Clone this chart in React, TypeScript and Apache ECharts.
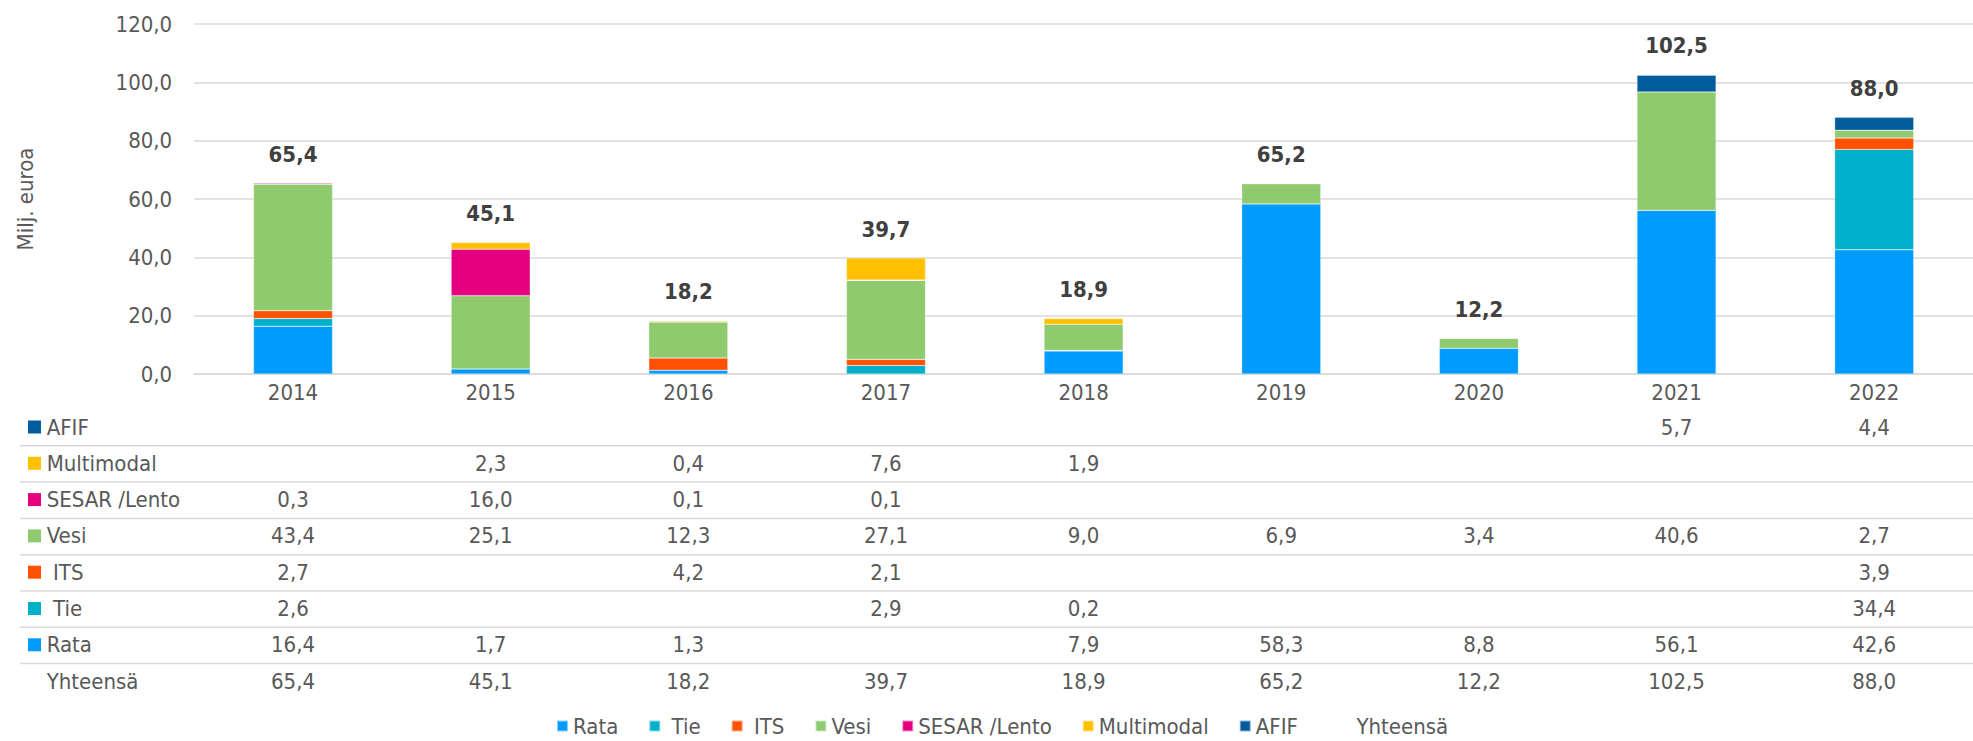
import React, { useEffect, useRef } from "react";
import * as echarts from "echarts";

const categories = ["2014", "2015", "2016", "2017", "2018", "2019", "2020", "2021", "2022"];
const rata = [16.4, 1.7, 1.3, null, 7.9, 58.3, 8.8, 56.1, 42.6];
const tie = [2.6, null, null, 2.9, 0.2, null, null, null, 34.4];
const its = [2.7, null, 4.2, 2.1, null, null, null, null, 3.9];
const vesi = [43.4, 25.1, 12.3, 27.1, 9.0, 6.9, 3.4, 40.6, 2.7];
const sesar = [0.3, 16.0, 0.1, 0.1, null, null, null, null, null];
const multimodal = [null, 2.3, 0.4, 7.6, 1.9, null, null, null, null];
const afif = [null, null, null, null, null, null, null, 5.7, 4.4];
const totals = [65.4, 45.1, 18.2, 39.7, 18.9, 65.2, 12.2, 102.5, 88.0];

const yMin = 0;
const yMax = 120;
const yInterval = 20;

const seriesDefs = [
  { name: "Rata", data: rata, color: "#009BFF" },
  { name: " Tie", data: tie, color: "#00AFC9" },
  { name: " ITS", data: its, color: "#FF5100" },
  { name: "Vesi", data: vesi, color: "#90CA6E" },
  { name: "SESAR /Lento", data: sesar, color: "#E5007E" },
  { name: "Multimodal", data: multimodal, color: "#FFC000" },
  { name: "AFIF", data: afif, color: "#005C9D" },
];
const totalName = "Yhteensä";

const FONT = "'DejaVu Sans Condensed', 'DejaVu Sans', sans-serif";
const fmt = (v: number | null) => (v == null ? "" : v.toFixed(1).replace(".", ","));

export default function App() {
  const ref = useRef<HTMLDivElement>(null);
  useEffect(() => {
    if (!ref.current) return;
    const chart = echarts.init(ref.current, undefined, { renderer: "svg" });
    const option: any = {
      animation: false,
      textStyle: { fontFamily: FONT },
      grid: { left: 194.2, right: -14.1, top: 24, bottom: 367 },
      legend: {
        left: 556,
        top: 715,
        padding: 0,
        itemWidth: 11,
        itemHeight: 11,
        itemGap: 30,
        icon: "rect",
        textStyle: { fontFamily: FONT, fontSize: 22, color: "#595959" },
        formatter: (n: string) => (n === totalName ? "  " + n : n),
        data: [
          ...seriesDefs.map((s) => ({ name: s.name })),
          { name: totalName, icon: "none" },
        ],
        selectedMode: false,
      },
      xAxis: {
        type: "category",
        data: categories,
        axisLine: { lineStyle: { color: "#D9D9D9", width: 1.5 } },
        axisTick: { show: false },
        axisLabel: { color: "#595959", fontSize: 22, fontFamily: FONT, margin: 7 },
      },
      yAxis: {
        type: "value",
        min: yMin,
        max: yMax,
        interval: yInterval,
        name: "Milj. euroa",
        nameLocation: "middle",
        nameGap: 158,
        nameTextStyle: { color: "#595959", fontSize: 22, fontFamily: FONT },
        axisLabel: {
          color: "#595959",
          fontSize: 22,
          fontFamily: FONT,
          margin: 22,
          formatter: (v: number) => fmt(v),
        },
        splitLine: { lineStyle: { color: "#D9D9D9", width: 1.5 } },
        axisLine: { show: false },
        axisTick: { show: false },
      },
      series: [
        ...seriesDefs.map((s) => ({
          name: s.name,
          type: "bar",
          stack: "total",
          data: s.data,
          barWidth: "40%",
          itemStyle: { color: s.color, borderColor: "rgba(255,255,255,0.55)", borderWidth: 0.5 },
          emphasis: { disabled: true },
        })),
        {
          name: totalName,
          type: "line",
          data: totals,
          symbol: "circle",
          symbolSize: 0.1,
          itemStyle: { color: "transparent" },
          lineStyle: { width: 0, opacity: 0 },
          emphasis: { disabled: true },
          label: {
            show: true,
            position: "top",
            distance: 18,
            color: "#404040",
            fontWeight: "bold",
            fontSize: 22,
            fontFamily: FONT,
            formatter: (p: any) => fmt(p.value),
          },
        },
      ],
    };
    chart.setOption(option);

    // Data table below the chart, columns aligned via the category axis
    const rows = [...seriesDefs].reverse().map((s) => ({ name: s.name, data: s.data as (number | null)[], color: s.color }));
    const allRows = [...rows, { name: totalName, data: totals as (number | null)[], color: null as string | null }];
    const rowCenter0 = 427;
    const rowH = 36.3;
    const elements: any[] = [];
    const xs = categories.map((c) => chart.convertToPixel({ xAxisIndex: 0 }, c) as number);
    allRows.forEach((r, i) => {
      const cy = rowCenter0 + i * rowH;
      if (r.color) {
        elements.push({ type: "rect", shape: { x: 28, y: cy - 6.5, width: 13, height: 13 }, style: { fill: r.color } });
      }
      elements.push({
        type: "text",
        x: 46.7,
        y: cy,
        style: { text: r.name, fill: "#595959", font: `22px ${FONT}`, textAlign: "left", textVerticalAlign: "middle" },
      });
      r.data.forEach((v, j) => {
        if (v == null) return;
        elements.push({
          type: "text",
          x: xs[j],
          y: cy,
          style: { text: fmt(v), fill: "#595959", font: `22px ${FONT}`, textAlign: "center", textVerticalAlign: "middle" },
        });
      });
      if (i < allRows.length - 1) {
        elements.push({
          type: "line",
          shape: { x1: 20, y1: cy + 18.8, x2: 1973, y2: cy + 18.8 },
          style: { stroke: "#D9D9D9", lineWidth: 1.5 },
        });
      }
    });
    chart.setOption({ graphic: { elements } });
    return () => chart.dispose();
  }, []);
  return <div ref={ref} style={{ position: "absolute", left: 0, top: 0, width: 1973, height: 741 }} />;
}
